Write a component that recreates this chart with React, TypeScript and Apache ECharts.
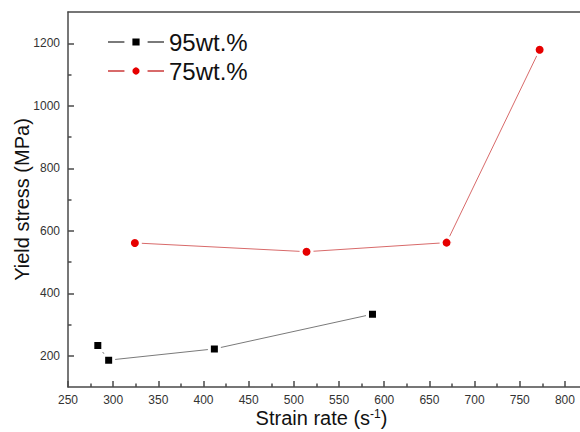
import React, { useEffect, useRef } from "react";
import * as echarts from "echarts";

const SERIES_NAMES = ["95wt.%", "75wt.%"];
const X_95 = [283, 295, 412, 587];
const Y_95 = [233, 186, 222, 333];
const X_75 = [324, 514, 669, 772];
const Y_75 = [561, 533, 562, 1179];
const X_MAJOR = [250, 300, 350, 400, 450, 500, 550, 600, 650, 700, 750, 800];
const X_MINOR = [275, 325, 375, 425, 475, 525, 575, 625, 675, 725, 775];
const Y_MAJOR = [200, 400, 600, 800, 1000, 1200];
const Y_MINOR = [300, 500, 700, 900, 1100];

const FONT = "'Liberation Sans', Arial, sans-serif";
const AXIS_COLOR = "#4a4a4a";

export default function App() {
  const ref = useRef<HTMLDivElement>(null);
  useEffect(() => {
    if (!ref.current) return;
    const chart = echarts.init(ref.current, null, { renderer: "svg" });
    const gridPos = {
      left: 68,
      top: 12,
      right: -3,
      bottom: 45,
      containLabel: false,
      outerBoundsMode: "none",
    };
    const axisLineStyle = { color: AXIS_COLOR, width: 1.5 };
    const legendBase = {
      orient: "horizontal",
      left: 107,
      padding: 0,
      itemWidth: 56,
      itemHeight: 19,
      itemGap: 0,
      textStyle: { fontSize: 24, color: "#111", fontFamily: FONT },
      itemStyle: { borderColor: "#fff", borderWidth: 8 },
    };
    chart.setOption({
      animation: false,
      backgroundColor: "#fff",
      textStyle: { fontFamily: FONT },
      grid: [gridPos, gridPos],
      legend: [
        { ...legendBase, data: [SERIES_NAMES[0]], top: 30 },
        { ...legendBase, data: [SERIES_NAMES[1]], top: 59 },
      ],
      xAxis: [
        {
          type: "value",
          gridIndex: 0,
          position: "bottom",
          min: 250,
          max: 820,
          axisLine: { show: true, lineStyle: axisLineStyle },
          axisTick: { show: true, inside: true, length: 6, customValues: X_MAJOR, lineStyle: axisLineStyle },
          axisLabel: {
            customValues: X_MAJOR,
            fontSize: 12,
            color: "#333",
            margin: 7,
            fontFamily: FONT,
            formatter: (v: number) => String(v),
          },
          splitLine: { show: false },
          name: "Strain rate (s{sup|-1})",
          nameLocation: "middle",
          nameGap: 21,
          nameMoveOverlap: false,
          nameTextStyle: {
            fontSize: 20,
            color: "#111",
            fontFamily: FONT,
            padding: [0, 8, 0, 0],
            rich: { sup: { fontSize: 12, verticalAlign: "top", color: "#111", fontFamily: FONT } },
          },
        },
        {
          type: "value",
          gridIndex: 0,
          position: "top",
          min: 250,
          max: 820,
          axisLine: { show: true, lineStyle: axisLineStyle },
          axisTick: { show: false },
          axisLabel: { show: false },
          splitLine: { show: false },
        },
        {
          type: "value",
          gridIndex: 1,
          position: "bottom",
          min: 250,
          max: 820,
          axisLine: { show: false },
          axisTick: { show: true, inside: true, length: 3.5, customValues: X_MINOR, lineStyle: axisLineStyle },
          axisLabel: { show: false },
          splitLine: { show: false },
        },
      ],
      yAxis: [
        {
          type: "value",
          gridIndex: 0,
          position: "left",
          min: 100,
          max: 1300,
          axisLine: { show: true, lineStyle: axisLineStyle },
          axisTick: { show: true, inside: true, length: 6, customValues: Y_MAJOR, lineStyle: axisLineStyle },
          axisLabel: {
            customValues: Y_MAJOR,
            fontSize: 12,
            color: "#333",
            margin: 8,
            fontFamily: FONT,
            formatter: (v: number) => String(v),
          },
          splitLine: { show: false },
          name: "Yield stress (MPa)",
          nameLocation: "middle",
          nameGap: 36,
          nameMoveOverlap: false,
          nameTextStyle: { fontSize: 20, color: "#111", fontFamily: FONT },
        },
        {
          type: "value",
          gridIndex: 1,
          position: "left",
          min: 100,
          max: 1300,
          axisLine: { show: false },
          axisTick: { show: true, inside: true, length: 3.5, customValues: Y_MINOR, lineStyle: axisLineStyle },
          axisLabel: { show: false },
          splitLine: { show: false },
        },
      ],
      series: [
        {
          name: SERIES_NAMES[0],
          type: "line",
          xAxisIndex: 0,
          yAxisIndex: 0,
          symbol: "rect",
          symbolSize: 10,
          lineStyle: { color: "#7a7a7a", width: 1 },
          itemStyle: { color: "#000", borderColor: "#fff", borderWidth: 3 },
          data: X_95.map((x, i) => [x, Y_95[i]]),
        },
        {
          name: SERIES_NAMES[1],
          type: "line",
          xAxisIndex: 0,
          yAxisIndex: 0,
          symbol: "circle",
          symbolSize: 11,
          lineStyle: { color: "#d86a6a", width: 1 },
          itemStyle: { color: "#e60000", borderColor: "#fff", borderWidth: 3 },
          data: X_75.map((x, i) => [x, Y_75[i]]),
        },
      ],
    });
    return () => chart.dispose();
  }, []);
  return (
    <div
      ref={ref}
      style={{ position: "fixed", left: 0, top: 0, width: 580, height: 432, background: "#fff" }}
    />
  );
}
